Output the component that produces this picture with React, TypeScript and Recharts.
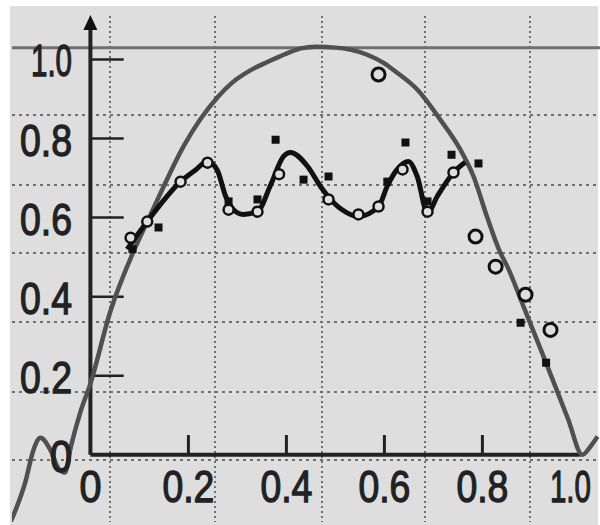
import React from 'react';
import {
  ComposedChart,
  Line,
  Scatter,
  XAxis,
  YAxis,
  CartesianGrid,
  ReferenceLine,
  ReferenceDot,
} from 'recharts';

// theoretical curve (grey)
const theoryX = [
  -0.163, -0.133, -0.116, -0.102, -0.082, -0.065, -0.052, -0.04, -0.02, 0, 0.04, 0.09, 0.12, 0.15, 0.19,
  0.224, 0.26, 0.29, 0.33, 0.36, 0.4, 0.43, 0.46, 0.5, 0.53, 0.565, 0.6, 0.62, 0.667, 0.714, 0.755,
  0.782, 0.81, 0.837, 0.851, 0.884, 0.918, 0.945, 0.975, 1.004, 1.02, 1.035,
];
const theoryY = [
  -0.17, -0.07, 0.013, 0.043, 0.013, -0.035, -0.045, 0.02, 0.11, 0.18, 0.36, 0.52, 0.6, 0.68, 0.78,
  0.848, 0.905, 0.942, 0.975, 0.993, 1.015, 1.028, 1.032, 1.03, 1.025, 1.012, 0.99, 0.972, 0.924, 0.848, 0.772,
  0.704, 0.6, 0.51, 0.476, 0.375, 0.27, 0.185, 0.09, 0.0, 0.02, 0.046,
];

// measured curve (black)
const fitX = [
  0.075, 0.116, 0.184, 0.214, 0.239, 0.259, 0.276, 0.292, 0.312, 0.341, 0.367, 0.394, 0.408, 0.443, 0.469,
  0.49, 0.524, 0.547, 0.588, 0.606, 0.626, 0.649, 0.667, 0.688, 0.708, 0.741, 0.765,
];
const fitY = [
  0.52, 0.59, 0.691, 0.72, 0.742, 0.72, 0.654, 0.62, 0.608, 0.615, 0.68, 0.755, 0.765, 0.73, 0.68,
  0.646, 0.612, 0.603, 0.628, 0.68, 0.722, 0.742, 0.704, 0.612, 0.654, 0.714, 0.74,
];

// open circles on the black curve
const circleX = [0.082, 0.116, 0.184, 0.239, 0.282, 0.341, 0.385, 0.486, 0.547, 0.588, 0.637, 0.688, 0.741];
const circleY = [0.549, 0.59, 0.691, 0.739, 0.62, 0.615, 0.71, 0.646, 0.608, 0.628, 0.722, 0.615, 0.714];

// loose open circles
const looseX = [0.588, 0.786, 0.827, 0.888, 0.939];
const looseY = [0.962, 0.552, 0.476, 0.405, 0.316];

// filled squares
const squareX = [0.086, 0.139, 0.282, 0.341, 0.378, 0.435, 0.486, 0.606, 0.643, 0.688, 0.737, 0.792, 0.878, 0.93];
const squareY = [0.52, 0.575, 0.641, 0.646, 0.797, 0.696, 0.704, 0.691, 0.79, 0.641, 0.759, 0.737, 0.334, 0.233];

const xTicks = [0, 0.2, 0.4, 0.6, 0.8, 1.0];
const xTickLabels = ['0', '0.2', '0.4', '0.6', '0.8', '1.0'];
const yTicks = [0, 0.2, 0.4, 0.6, 0.8, 1.0];
const yTickLabels = ['0', '0.2', '0.4', '0.6', '0.8', '1.0'];
const topLine = 1.03;

const zip = (xs: number[], ys: number[]) => xs.map((x, i) => ({ x, y: ys[i] }));

const theory = zip(theoryX, theoryY);
const fit = zip(fitX, fitY);
const circles = zip(circleX, circleY);
const loose = zip(looseX, looseY);
const squares = zip(squareX, squareY);

const INK = '#222';
const BG = '#dedede';
const FONT_SIZE = 45;

// wanted (squeezed) width and the font's own width
const labelWidth = (s: string) =>
  s.split('').reduce((w, c) => w + (c === '.' ? 8 : c === '1' ? 11 : 22), 0);
const naturalWidth = (s: string) =>
  s.split('').reduce((w, c) => w + (c === '.' ? 0.278 : 0.556) * FONT_SIZE, 0);

const labelFor = (ticks: number[], labels: string[], v: number) => {
  const i = ticks.findIndex((t) => Math.abs(t - v) < 1e-6);
  return i >= 0 ? labels[i] : String(v);
};

const Label = ({ x, y, text, anchor }: any) => {
  const sx = labelWidth(text) / naturalWidth(text);
  return (
    <g transform={`translate(${x},${y}) scale(${sx},1)`}>
      <text
        x={0}
        y={0}
        textAnchor={anchor}
        fontSize={FONT_SIZE}
        fontFamily="Liberation Sans, Arial, sans-serif"
        fill={INK}
        stroke={INK}
        strokeWidth={1.3}
      >
        {text}
      </text>
    </g>
  );
};

const XTick = (props: any) => {
  const { x, y, payload } = props;
  // the last label sits left of its tick, against the edge
  const shift = payload.value >= 1 ? -10 : 0;
  return <Label x={x + shift} y={y - 20} text={labelFor(xTicks, xTickLabels, payload.value)} anchor="middle" />;
};

const YTick = (props: any) => {
  const { x, y, payload } = props;
  return <Label x={x + 60} y={y + 17} text={labelFor(yTicks, yTickLabels, payload.value)} anchor="end" />;
};

const OpenCircle = (r: number, w: number) => (props: any) =>
  <circle cx={props.cx} cy={props.cy} r={r} fill={BG} stroke="#111" strokeWidth={w} />;

const Square = (props: any) => (
  <rect x={props.cx - 4} y={props.cy - 4} width={8} height={8} fill="#111" />
);

const Arrow = (props: any) => (
  <polygon
    points={`${props.cx},${props.cy - 11} ${props.cx - 7},${props.cy + 4} ${props.cx + 7},${props.cy + 4}`}
    fill="#111"
  />
);

export default function App() {
  return (
    <div style={{ position: 'absolute', left: 0, top: 0, width: 600, height: 525, background: '#fff' }}>
      <div style={{ position: 'absolute', left: 10, top: 6, width: 588, height: 519, background: BG }} />
      <div style={{ position: 'absolute', left: 0, top: 0 }}>
        <ComposedChart width={600} height={525} margin={{ top: 16, right: 0, bottom: 2, left: 11 }}>
          <CartesianGrid
            vertical={false}
            horizontalPoints={[115, 185, 253, 322, 392, 460]}
            stroke="#707070"
            strokeWidth={2}
            strokeDasharray="3 4"
          />
          <CartesianGrid
            horizontal={false}
            verticalPoints={[110, 215, 322, 425, 530]}
            stroke="#707070"
            strokeWidth={2}
            strokeDasharray="2 3"
          />
          <XAxis
            type="number"
            dataKey="x"
            domain={[-0.16, 1.04]}
            allowDataOverflow
            ticks={xTicks}
            height={1}
            axisLine={false}
            tickLine={false}
            tickSize={0}
            tickMargin={0}
            tick={XTick}
            interval={0}
          />
          <YAxis
            type="number"
            dataKey="y"
            domain={[-0.17, 1.11]}
            allowDataOverflow
            ticks={yTicks}
            width={1}
            axisLine={false}
            tickLine={false}
            tickSize={0}
            tickMargin={0}
            tick={YTick}
            interval={0}
          />
          <ReferenceLine y={topLine} stroke="#6f6f6f" strokeWidth={3} />
          {/* axes drawn through the origin */}
          <ReferenceLine segment={[{ x: 0, y: 0 }, { x: 1.0, y: 0 }]} stroke={INK} strokeWidth={4} />
          <ReferenceLine segment={[{ x: 0, y: 0 }, { x: 0, y: 1.08 }]} stroke={INK} strokeWidth={4} />
          <ReferenceDot x={0} y={1.085} shape={<Arrow />} />
          {yTicks.filter((v) => v > 0).map((v) => (
            <ReferenceLine key={`yt-${v}`} segment={[{ x: 0, y: v }, { x: 0.068, y: v }]} stroke={INK} strokeWidth={2.5} />
          ))}
          {xTicks.filter((v) => v > 0 && v < 1).map((v) => (
            <ReferenceLine key={`xt-${v}`} segment={[{ x: v, y: 0 }, { x: v, y: 0.05 }]} stroke={INK} strokeWidth={3} />
          ))}
          <Line
            data={theory}
            dataKey="y"
            type="monotone"
            stroke="#505050"
            strokeWidth={4.5}
            dot={false}
            activeDot={false}
            isAnimationActive={false}
          />
          <Line
            data={fit}
            dataKey="y"
            type="monotone"
            stroke="#111"
            strokeWidth={5}
            dot={false}
            activeDot={false}
            isAnimationActive={false}
          />
          <Scatter data={squares} shape={Square} isAnimationActive={false} />
          <Scatter data={circles} shape={OpenCircle(5, 2.5)} isAnimationActive={false} />
          <Scatter data={loose} shape={OpenCircle(6.5, 3)} isAnimationActive={false} />
        </ComposedChart>
      </div>
    </div>
  );
}
